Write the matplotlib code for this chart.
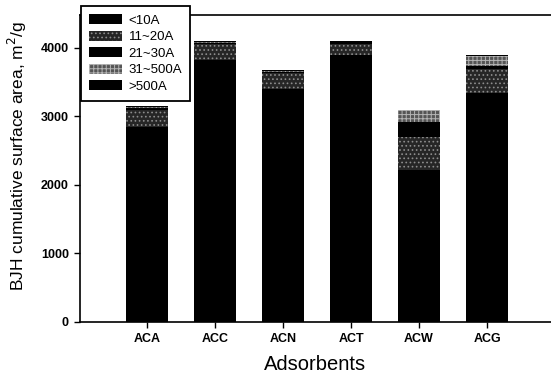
import matplotlib
matplotlib.use("Agg")
import matplotlib.pyplot as plt
import numpy as np

plt.rcParams['font.family'] = ['Liberation Sans', 'DejaVu Sans']
plt.rcParams['hatch.linewidth'] = 0.7

adsorbents = ["ACA", "ACC", "ACN", "ACT", "ACW", "ACG"]
pore_ranges = ["<10A", "11~20A", "21~30A", "31~500A", ">500A"]

# BJH cumulative surface area contributions (m2/g) per pore range
lt10 = [2850, 3830, 3400, 3890, 2220, 3340]
r11_20 = [250, 220, 230, 170, 485, 350]
r21_30 = [20, 20, 20, 20, 215, 40]
r31_500 = [20, 20, 20, 10, 170, 150]
gt500 = [10, 10, 10, 10, 10, 20]

series = [lt10, r11_20, r21_30, r31_500, gt500]
styles = [
    dict(facecolor="black", edgecolor="black", hatch=None),
    dict(facecolor="#262626", edgecolor="#8c8c8c", hatch="...."),
    dict(facecolor="black", edgecolor="black", hatch=None),
    dict(facecolor="#555555", edgecolor="#b4b4b4", hatch="++++"),
    dict(facecolor="black", edgecolor="black", hatch=None),
]

fig = plt.figure(figsize=(5.51, 3.81), dpi=100)
ax = fig.add_axes([80 / 551, 59 / 381, 471 / 551, 307 / 381])

x = np.arange(len(adsorbents))
bottom = np.zeros(len(adsorbents))
for vals, name, st in zip(series, pore_ranges, styles):
    ax.bar(x, vals, width=0.62, bottom=bottom, label=name,
           facecolor=st["facecolor"], edgecolor=st["edgecolor"],
           hatch=st["hatch"], linewidth=0)
    bottom += np.array(vals)

ax.set_xlim(-0.985, 5.94)
ax.set_ylim(0, 4480)
ax.set_yticks([0, 1000, 2000, 3000, 4000])
ax.set_xticks(x)
ax.set_xticklabels(adsorbents)
for lbl in ax.get_xticklabels() + ax.get_yticklabels():
    lbl.set_fontweight("bold")
    lbl.set_fontsize(9)
ax.tick_params(direction="out", length=4, width=1, pad=4)

ax.spines["right"].set_visible(False)
for s in ["left", "bottom", "top"]:
    ax.spines[s].set_linewidth(1.2)

ax.set_xlabel("Adsorbents", fontsize=14.5, labelpad=7)
ax.set_ylabel("BJH cumulative surface area, m$^2$/g", fontsize=12.5)
ax.yaxis.set_label_coords(-0.108, 0.54)

leg = ax.legend(loc="upper left", bbox_to_anchor=(1 / 471, 1 + 9 / 307),
                fontsize=9.5, frameon=True, fancybox=False, framealpha=1,
                edgecolor="black", handlelength=2.5, handleheight=0.8,
                handletextpad=0.5, labelspacing=0.3, borderpad=0.6,
                borderaxespad=0)
leg.get_frame().set_linewidth(1.3)
leg.set_zorder(10)

fig.savefig("out.png", dpi=100)
